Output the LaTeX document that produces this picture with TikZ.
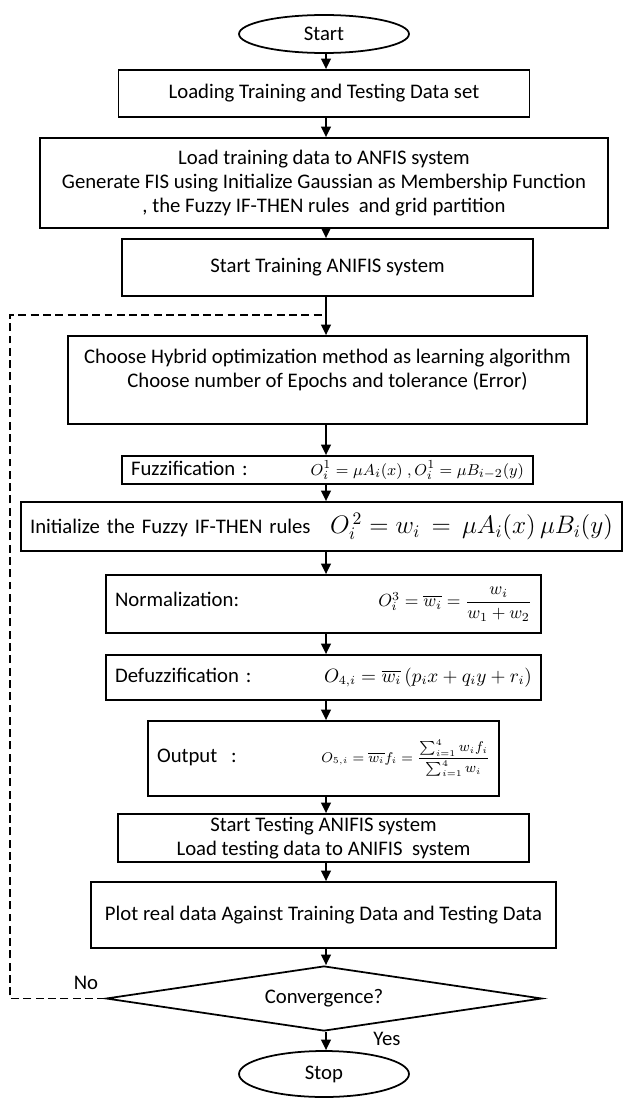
\documentclass[tikz,border=0pt]{standalone}
\usepackage{amsmath}
\usepackage{fontspec}
\setmainfont{Carlito}
\usetikzlibrary{arrows.meta,shapes.geometric}

\begin{document}
\begin{tikzpicture}[x=0.02cm,y=-0.02cm,
	font=\fontsize{11.8}{13.6}\selectfont,
	box/.style={draw,line width=1pt,inner sep=0pt,align=center},
	eqbox/.style={draw,line width=1pt,inner ysep=0pt,inner xsep=0.18cm,align=left},
	term/.style={draw,ellipse,line width=1pt,inner sep=0pt,minimum width=3.4cm},
	arr/.style={line width=1pt,-{Triangle[width=5.5pt,length=6pt]}}]

\useasboundingbox (0,0) rectangle (625,1098);

% terminals
\node[term,minimum height=0.76cm] (start) at (324,34) {Start};
\node[term,minimum height=0.92cm] (stop) at (324,1074) {Stop};

% process boxes
\node[box,minimum width=8.22cm,minimum height=0.94cm] (load) at (324,93.5) {Loading Training and Testing Data set};
\node[box,minimum width=11.36cm,minimum height=1.8cm] (anfis) at (324,183) {Load training data to ANFIS system\\
	Generate FIS using Initialize Gaussian as Membership Function\\
	, the Fuzzy IF-THEN rules \ and grid partition};
\node[box,minimum width=8.22cm,minimum height=1.14cm] (train) at (327.5,267.5) {Start Training ANIFIS system};
\node[box,minimum width=10.38cm,minimum height=1.76cm] (choose) at (327.5,380) {Choose Hybrid optimization method as learning algorithm\\
	Choose number of Epochs and tolerance (Error)\\ \mbox{}};
\node[eqbox,minimum height=0.56cm,text width=7.86cm] (fuzz) at (327.5,470)
	{Fuzzification :\hfill {\fontsize{9.4}{11}\selectfont$O^1_i=\mu A_i(x)\;,O^1_i=\mu B_{i-2}(y)$}\hspace*{0.16cm}};
\node[eqbox,minimum height=0.98cm,text width=11.66cm] (init) at (321.5,526.5)
	{Initialize the Fuzzy IF-THEN rules\hfill {\fontsize{14.5}{16}\selectfont$O^{\,2}_i= w_i\,=\,\mu A_i(x)\,\mu B_i(y)$}\hspace*{0.26cm}};
\node[eqbox,minimum height=1.16cm,text width=8.34cm] (norm) at (323.5,604)
	{Normalization:\hfill {\fontsize{9.6}{11}\selectfont$O^3_i=\overline{w_i}=\dfrac{w_i}{w_1+w_2}$}\hspace*{0.3cm}};
\node[eqbox,minimum height=0.9cm,text width=8.34cm] (defuzz) at (323.5,677.5)
	{Defuzzification :\hfill {\fontsize{10.6}{12}\selectfont$O_{4,i}=\overline{w_i}\,(p_i x+q_i y+r_i)$}};
\node[eqbox,minimum height=1.5cm,text width=6.66cm] (output) at (323.5,758.5)
	{Output \ :\hfill {\fontsize{7.8}{10}\selectfont$O_{5,i}=\overline{w_i}f_i=\dfrac{\sum_{i=1}^{4}w_if_i}{\sum_{i=1}^{4}w_i}$}\hspace*{0.1cm}};
\node[box,minimum width=8.22cm,minimum height=0.96cm] (test) at (323.5,838) {Start Testing ANIFIS system\\
	Load testing data to ANIFIS \ system};
\node[box,minimum width=9.3cm,minimum height=1.32cm] (plot) at (323.5,915) {Plot real data Against Training Data and Testing Data};

% decision
\node[draw,diamond,line width=1pt,inner sep=0pt,aspect=6.7,minimum width=8.72cm,minimum height=1.3cm] (conv) at (324,998.5) {Convergence?};
\node (no) at (86,983) {No};
\node (yes) at (387,1039) {Yes};

\coordinate (join) at (326,315);
\coordinate (left) at (10,315);

% main flow
\draw[arr] (start.south-|join) -- (load.north-|join);
\draw[arr] (load.south-|join) -- (anfis.north-|join);
\draw[arr] (anfis.south-|join) -- (train.north-|join);
\draw[arr] (train.south-|join) -- (choose.north-|join);
\draw[arr] (choose.south-|join) -- (fuzz.north-|join);
\draw[arr] (fuzz.south-|join) -- (init.north-|join);
\draw[arr] (init.south-|join) -- (norm.north-|join);
\draw[arr] (norm.south-|join) -- (defuzz.north-|join);
\draw[arr] (defuzz.south-|join) -- (output.north-|join);
\draw[arr] (output.south-|join) -- (test.north-|join);
\draw[arr] (test.south-|join) -- (plot.north-|join);
\draw[arr] (plot.south-|join) -- (conv.north-|join);
\draw[arr] (conv.south-|join) -- (stop.north-|join);

% back loop
\draw[line width=1pt,dash pattern=on 4.5pt off 2.5pt] (conv.west) -| (left) -- (join);

\end{tikzpicture}
\end{document}
